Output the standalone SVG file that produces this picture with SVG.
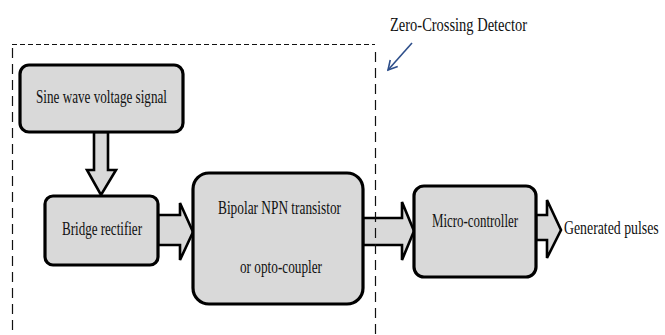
<svg xmlns="http://www.w3.org/2000/svg" width="665" height="335" viewBox="0 0 665 335">
<style>
.box{fill:#d9d9d9;stroke:#000;stroke-width:3.2}
.arr{fill:#d9d9d9;stroke:#000;stroke-width:2.6;stroke-linejoin:miter}
.dh{fill:none;stroke:#111;stroke-width:1.2;stroke-dasharray:5,3}
.dv{fill:none;stroke:#111;stroke-width:1.2;stroke-dasharray:10,6}
</style>
<defs>
<marker id="chev" markerWidth="12" markerHeight="12" refX="10" refY="6" orient="auto" markerUnits="userSpaceOnUse">
<path d="M1,1 L10,6 L1,11" fill="none" stroke="#2d4e8a" stroke-width="1.6"/>
</marker>
</defs>
<rect width="665" height="335" fill="#fff"/>
<g id="connectors">
<polygon class="arr" points="94,132 108,132 108,170 116,170 101,195 87,170 94,170"/>
<polygon class="arr" points="158,215 180,215 180,203 193,232 180,260 180,245 158,245"/>
<polygon class="arr" points="363,218 402,218 402,202 414,231 402,260 402,245 363,245"/>
<polygon class="arr" points="536,215 547,215 547,200 561,230 547,258 547,240 536,240"/>
<line x1="412" y1="43" x2="388" y2="70" stroke="#2d4e8a" stroke-width="1.6" marker-end="url(#chev)"/>
</g>
<g font-family="Liberation Serif, Times New Roman, serif" font-size="19" fill="#111">
<g id="zcd">
<line class="dh" x1="12" y1="44.5" x2="375" y2="44.5"/>
<line class="dv" x1="12.5" y1="48" x2="12.5" y2="340"/>
<line class="dv" x1="375.5" y1="52" x2="375.5" y2="340"/>
<text x="390" y="31" textLength="137" lengthAdjust="spacingAndGlyphs">Zero-Crossing Detector</text>
</g>
<g id="sine">
<rect class="box" x="20" y="65" width="163" height="67" rx="9"/>
<text x="36" y="103" textLength="131" lengthAdjust="spacingAndGlyphs">Sine wave voltage signal</text>
</g>
<g id="bridge">
<rect class="box" x="45" y="196" width="113" height="69" rx="8"/>
<text x="62" y="235" textLength="80" lengthAdjust="spacingAndGlyphs">Bridge rectifier</text>
</g>
<g id="bipolar">
<rect class="box" x="193" y="173" width="170" height="131" rx="16"/>
<text x="218" y="214" textLength="123" lengthAdjust="spacingAndGlyphs">Bipolar NPN transistor</text>
<text x="240" y="273" textLength="82" lengthAdjust="spacingAndGlyphs">or opto-coupler</text>
</g>
<g id="micro">
<rect class="box" x="414" y="186" width="122" height="91" rx="10"/>
<text x="432" y="227" textLength="86" lengthAdjust="spacingAndGlyphs">Micro-controller</text>
</g>
<g id="output">
<text transform="translate(564,234) scale(0.74,1)" x="0" y="0" textLength="128" lengthAdjust="spacingAndGlyphs">Generated pulses</text>
</g>
</g>
</svg>
